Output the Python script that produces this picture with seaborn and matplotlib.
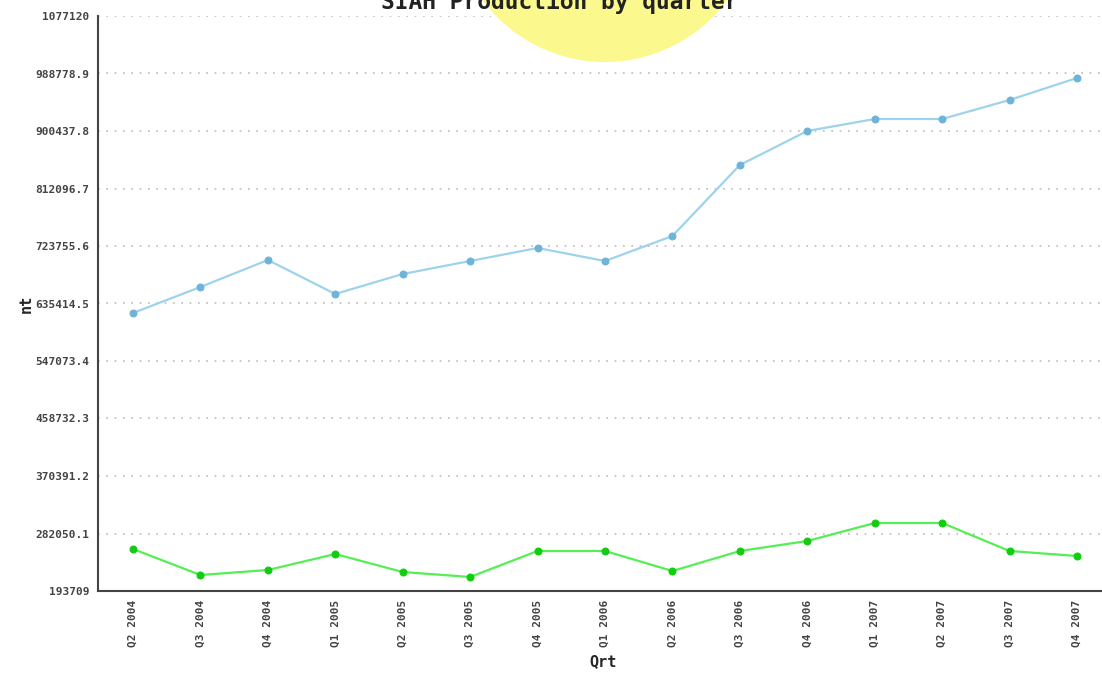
import matplotlib
matplotlib.use("Agg")
import matplotlib.pyplot as plt
from matplotlib.patches import Ellipse
import numpy as np
import pandas as pd
import seaborn as sns

# quarters on the x axis
quarters = ["Q2 2004", "Q3 2004", "Q4 2004", "Q1 2005", "Q2 2005", "Q3 2005",
            "Q4 2005", "Q1 2006", "Q2 2006", "Q3 2006", "Q4 2006", "Q1 2007",
            "Q2 2007", "Q3 2007", "Q4 2007"]

# values
blue_series = [620820, 660765, 702247, 650011, 680738, 700711, 720684, 700711,
               739120, 848203, 900439, 918876, 918876, 948067, 981867]
green_series = [258237, 218291, 225973, 250555, 222900, 215218, 255164, 255164,
                224436, 255164, 270528, 298182, 298182, 255164, 247482]

y_ticks = [193709, 282050.1, 370391.2, 458732.3, 547073.4, 635414.5,
           723755.6, 812096.7, 900437.8, 988778.9, 1077120]
y_tick_labels = ["193709", "282050.1", "370391.2", "458732.3", "547073.4",
                 "635414.5", "723755.6", "812096.7", "900437.8", "988778.9",
                 "1077120"]

sns.set_style("white")
plt.rcParams['font.family'] = ['DejaVu Sans Mono', 'DejaVu Sans']

W, H = 1102, 674
fig = plt.figure(figsize=(W / 100, H / 100), dpi=100)

# yellow blob behind the title (round in pixels)
blob = Ellipse((605 / W, 1 + 90 / H), 2 * 152 / W, 2 * 152 / H,
               transform=fig.transFigure, facecolor="#fbf88e",
               edgecolor="none", zorder=0)
fig.patches.append(blob)

ax = fig.add_axes([98 / W, 1 - 591 / H, 1 - 98 / W, (591 - 16) / H])
ax.set_facecolor("none")

df = pd.DataFrame({
    "pos": np.arange(len(quarters)),
    "blue": blue_series,
    "green": green_series,
})

sns.lineplot(data=df, x="pos", y="blue", ax=ax, color="#9dd3ec", linewidth=1.6,
             marker="o", markersize=5, markerfacecolor="#6fb4d8",
             markeredgecolor="#6fb4d8", sort=False, zorder=3)
sns.lineplot(data=df, x="pos", y="green", ax=ax, color="#55ee55", linewidth=1.6,
             marker="o", markersize=5, markerfacecolor="#11cc11",
             markeredgecolor="#11cc11", sort=False, zorder=3)

ax.set_xlim(-35 / 67.43, 14 + 25 / 67.43)
ax.set_ylim(y_ticks[0], y_ticks[-1])

ax.set_yticks(y_ticks)
ax.set_yticklabels(y_tick_labels, fontsize=8, fontweight="bold", color="#444444")
ax.set_xticks(df["pos"])
ax.set_xticklabels(quarters, rotation=90, fontsize=8, fontweight="bold",
                   color="#444444")

ax.tick_params(axis="y", direction="inout", length=8, width=1.2, color="#444444", pad=2)
ax.tick_params(axis="x", length=0, pad=6)

for t in y_ticks[1:]:
    ax.axhline(t, color="#bbbbbb", linewidth=1.2, linestyle=(0, (1, 4)), zorder=1)

for side in ["top", "right"]:
    ax.spines[side].set_visible(False)
for side in ["left", "bottom"]:
    ax.spines[side].set_color("#444444")
    ax.spines[side].set_linewidth(1.5)

ax.set_xlabel("Qrt", fontsize=11, fontweight="bold")
ax.set_ylabel("nt", fontsize=11, fontweight="bold")
ax.yaxis.set_label_coords(-0.064, 0.5)
ax.xaxis.set_label_coords(0.503, -0.11)

fig.text(560 / W, 1 - 9 / H, "SIAH Production by quarter", ha="center",
         va="baseline", fontsize=16.5, fontweight="bold", color="#222222")

fig.savefig("out.png", dpi=100)
